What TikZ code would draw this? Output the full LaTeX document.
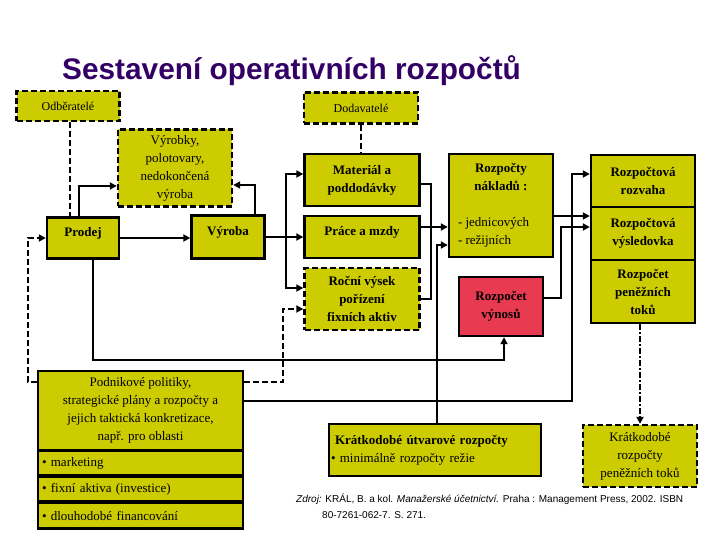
\documentclass[tikz,border=0pt]{standalone}
\usepackage{fontspec}
\setmainfont{Liberation Serif}
\newfontfamily\headfont{Liberation Sans}
\usetikzlibrary{arrows.meta}
\definecolor{boxfill}{RGB}{204,204,0}
\definecolor{incomefill}{RGB}{232,58,80}
\definecolor{headcol}{RGB}{51,0,102}
\tikzset{
  budget/.style={draw, line width=2.4pt, fill=boxfill, align=center, inner sep=2pt, font=\fontsize{13}{18}\selectfont},
  budgetb/.style={budget, font=\fontsize{13}{18}\selectfont\bfseries},
  outside/.style={dash pattern=on 6pt off 3pt},
  hightext/.style={text depth=12pt},
  item/.style={budget, text width=197pt, inner sep=4pt, align=left},
  flow/.style={line width=2pt, -{Triangle[length=7pt,width=7pt]}},
  link/.style={line width=2pt},
  dflow/.style={flow, dash pattern=on 6pt off 3pt},
  dlink/.style={link, dash pattern=on 6pt off 3pt},
  ddflow/.style={flow, dash pattern=on 6pt off 2pt on 2pt off 2pt},
}
\begin{document}
\begin{tikzpicture}[x=1pt, y=-1pt]
  \useasboundingbox (0,0) rectangle (720,540);
  \node[anchor=base west, font=\headfont\fontsize{29.8}{34}\selectfont\bfseries, text=headcol, inner sep=0pt] (title) at (62,80) {Sestavení operativních rozpočtů};

  % partners
  \node[budget, outside, minimum width=103pt, minimum height=30pt, font=\fontsize{12}{15}\selectfont] (odb) at (68,106) {Odběratelé};
  \node[budget, outside, minimum width=114pt, minimum height=31pt, font=\fontsize{12}{15}\selectfont] (dod) at (361,108) {Dodavatelé};

  % left part
  \node[budget, outside, minimum width=114pt, minimum height=77pt] (vyrobky) at (175,168) {Výrobky,\\polotovary,\\nedokončená\\výroba};
  \node[budgetb, hightext, minimum width=72pt, minimum height=41pt] (prodej) at (83,238) {Prodej};
  \node[budgetb, hightext, minimum width=73pt, minimum height=43pt] (vyroba) at (228,237) {Výroba};

  % inputs
  \node[budgetb, minimum width=115pt, minimum height=52pt] (mat) at (362,180) {Materiál a\\poddodávky};
  \node[budgetb, hightext, minimum width=115pt, minimum height=42pt] (prace) at (362,237) {Práce a mzdy};
  \node[budgetb, outside, minimum width=115pt, minimum height=62pt] (rocni) at (362,299) {Roční výsek\\pořízení\\fixních aktiv};

  % costs and revenues
  \node[budget, minimum width=104pt, minimum height=103pt] (naklady) at (501,205.5)
    {\textbf{Rozpočty}\\\textbf{nákladů :}\\[18pt]\makebox[86pt][l]{- jednicových}\\\makebox[86pt][l]{- režijních}};
  \node[budgetb, fill=incomefill, minimum width=84pt, minimum height=59pt] (vynosy) at (501,306.5) {Rozpočet\\výnosů};

  % master budget
  \node[budgetb, minimum width=104pt, minimum height=52pt] (rozvaha) at (643,181) {Rozpočtová\\rozvaha};
  \node[budgetb, minimum width=104pt, minimum height=53pt] (vysledovka) at (643,233.5) {Rozpočtová\\výsledovka};
  \node[budgetb, minimum width=104pt, minimum height=63pt] (penezni) at (643,291.5) {Rozpočet\\peněžních\\toků};

  % short term
  \node[budget, text width=208pt, align=left, minimum height=52pt] (utvarove) at (435,450)
    {\hspace*{4pt}\textbf{Krátkodobé útvarové rozpočty}\\\textbullet\ minimálně rozpočty režie};
  \node[budget, outside, minimum width=114pt, minimum height=62pt] (kratkopen) at (640,456) {Krátkodobé\\rozpočty\\peněžních toků};

  % policies
  \node[budget, minimum width=205pt, minimum height=79pt] (podnik) at (140.5,410.5)
    {Podnikové politiky,\\strategické plány a rozpočty a\\jejich taktická konkretizace,\\např. pro oblasti};
  \node[item, minimum height=24pt] (marketing) at (140.5,463) {\textbullet\ marketing};
  \node[item, minimum height=25pt] (fixni) at (140.5,489) {\textbullet\ fixní aktiva (investice)};
  \node[item, minimum height=26pt] (dlouho) at (140.5,515.5) {\textbullet\ dlouhodobé financování};

  \node[anchor=north west, align=left, inner sep=0pt, font=\headfont\fontsize{10}{16}\selectfont] (zdroj) at (296,494)
    {\textit{Zdroj:} KRÁL, B. a kol. \textit{Manažerské účetnictví.} Praha : Management Press, 2002. ISBN\\\hspace*{26pt}80-7261-062-7. S. 271.};

  % connectors
  \draw[dlink] ([xshift=2pt]odb.south) -- ([xshift=2pt]odb.south |- prodej.north);
  \draw[dlink] (dod.south) -- (dod.south |- mat.north);
  \draw[flow] ([xshift=-4pt]prodej.north) |- ([yshift=-18pt]vyrobky.west);
  \draw[flow] ([xshift=27pt]vyroba.north) |- ([yshift=-17pt]vyrobky.east);
  \draw[flow] (prodej.east) -- (prodej.east -| vyroba.west);
  \draw[flow] (vyroba.east) -- (vyroba.east -| prace.west);
  \draw[flow] ([xshift=20.5pt]vyroba.east) |- ([yshift=6pt]mat.west);
  \draw[flow] ([xshift=20.5pt]vyroba.east) |- ([yshift=11pt]rocni.west);
  \draw[dflow] ([yshift=28.5pt]podnik.west) -- ++(-9pt,0) |- (prodej.west);
  \draw[dflow] ([yshift=28.5pt]podnik.east) -| ([xshift=-20pt,yshift=-10pt]rocni.west) -- ([yshift=-10pt]rocni.west);
  \draw[flow] ([xshift=10pt]prodej.south) |- (504,360) -- ([xshift=3pt]vynosy.south);
  \draw[flow] ([yshift=9.5pt]podnik.east) -| ([xshift=-18pt,yshift=7pt]rozvaha.west) -- ([yshift=7pt]rozvaha.west);
  \draw[link] ([yshift=-4pt]mat.east) -- ++(10.5pt,0) |- (rocni.east);
  \draw[flow] ([yshift=10pt]prace.east) -- ([yshift=10pt]prace.east -| naklady.west);
  \draw[flow, {Triangle[length=7pt,width=7pt]}-] ([yshift=-39.5pt]naklady.west) -| ([xshift=2pt]utvarove.north);
  \draw[flow] ([yshift=-10.5pt]naklady.east) -- ([yshift=-10.5pt]naklady.east -| vysledovka.west);
  \draw[flow] ([yshift=8.5pt]vynosy.east) -| ([xshift=-29pt,yshift=6.5pt]vysledovka.west) -- ([yshift=6.5pt]vysledovka.west);
  \draw[ddflow] (kratkopen.north |- penezni.south) -- (kratkopen.north);
\end{tikzpicture}
\end{document}
